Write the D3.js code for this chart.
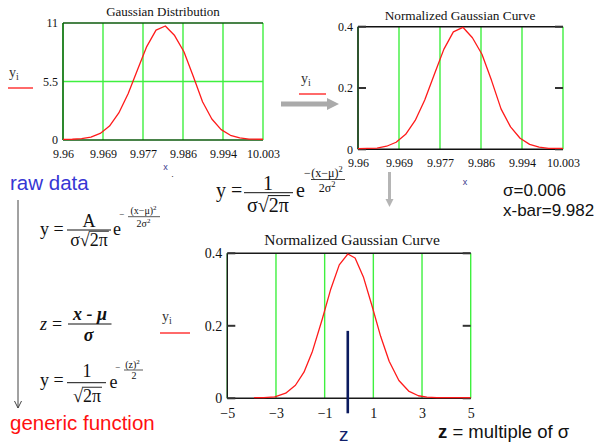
<!DOCTYPE html>
<html>
<head>
<meta charset="utf-8">
<script src="https://cdn.jsdelivr.net/npm/d3@7"></script>
<style>
  body { margin: 0; background: #fff; }
  svg { display: block; }
</style>
</head>
<body>
<svg id="chart" width="599" height="444"></svg>
<script>
// raw measured curve (x in mm, y counts)
const rawX = [9.960, 9.962, 9.964, 9.966, 9.968, 9.970, 9.972, 9.974, 9.976, 9.978, 9.980, 9.982,
  9.984, 9.986, 9.988, 9.990, 9.992, 9.994, 9.996, 9.998, 10.000, 10.002, 10.003]
const rawY = [0.06, 0.07, 0.12, 0.27, 0.62, 1.31, 2.54, 4.35, 6.58, 8.78, 10.33, 10.72,
  9.82, 8.3, 6.0, 3.6, 1.97, 0.98, 0.44, 0.19, 0.09, 0.07, 0.07]
// same curve after normalising
const normY = [0.002, 0.003, 0.004, 0.010, 0.023, 0.049, 0.094, 0.161, 0.244, 0.326, 0.383, 0.398,
  0.364, 0.31, 0.225, 0.132, 0.073, 0.036, 0.016, 0.007, 0.003, 0.003, 0.003]
// generic curve in multiples of sigma
const zVals = [-3.9, -3.5, -3.05, -2.6, -2.2, -1.85, -1.5, -1.1, -0.75, -0.4, -0.05, 0.25, 0.6,
  0.95, 1.3, 1.65, 2.05, 2.45, 2.85, 3.2, 3.6, 4.0, 4.5, 5.0]
const zY = [0.002, 0.002, 0.004, 0.014, 0.036, 0.072, 0.13, 0.218, 0.301, 0.368, 0.398, 0.387, 0.333,
  0.254, 0.171, 0.102, 0.049, 0.02, 0.007, 0.003, 0.002, 0.002, 0.002, 0.002]

const rawTicks = [9.96, 9.9686, 9.9772, 9.9858, 9.9944, 10.003]
const rawTickLabels = ['9.96', '9.969', '9.977', '9.986', '9.994', '10.003']
const rawYTicks = [0, 5.5, 11]
const rawYLabels = ['0', '5.5', '11']
const normYTicks = [0, 0.2, 0.4]
const normYLabels = ['0', '0.2', '0.4']
const zTicks = [-5, -3, -1, 1, 3, 5]
const zTickLabels = ['\u22125', '\u22123', '\u22121', '1', '3', '5']
const sigmaText = 'σ=0.006'
const xbarText = 'x-bar=9.982'
const zMarker = -0.05

const serif = '"Liberation Serif","Times New Roman",serif'
const sans = '"Liberation Sans",Arial,sans-serif'
const green = '#3ff03f'
const red = '#ff1a1a'

const svg = d3.select('#chart')

function text(g, x, y, s, size, o = {}) {
  return g.append('text')
    .attr('x', x).attr('y', y)
    .attr('font-family', o.family || serif)
    .attr('font-size', size)
    .attr('text-anchor', o.anchor || 'start')
    .attr('font-style', o.style || null)
    .attr('font-weight', o.weight || null)
    .attr('fill', o.fill || '#111')
    .text(s)
}

function hline(g, x1, x2, y, w = 1, c = '#111') {
  g.append('line').attr('x1', x1).attr('x2', x2).attr('y1', y).attr('y2', y)
    .attr('stroke', c).attr('stroke-width', w)
}

// text with a small superscript 2
function sq(g, x, y, s, size, o = {}) {
  const t = text(g, x, y, s, size, o)
  t.append('tspan').attr('font-size', size * 0.7).attr('dy', -size * 0.4).text('2')
  return t
}

// pre + square root over inner, centred at cx
function rootText(g, cx, y, pre, inner, size) {
  const grp = g.append('g')
  const a = text(grp, 0, y, pre + '√', size)
  const w1 = a.node().getComputedTextLength()
  const b = text(grp, w1, y, inner, size)
  const w2 = b.node().getComputedTextLength()
  hline(grp, w1 - 1, w1 + w2 + 1, y - size * 0.82, size / 20)
  grp.attr('transform', `translate(${cx - (w1 + w2) / 2},0)`)
}

function legend(x, y, lx1, lx2, ly) {
  const t = text(svg, x, y, 'y', 14, { fill: '#333' })
  t.append('tspan').attr('font-size', 10).attr('dy', 3).text('i')
  hline(svg, lx1, lx2, ly, 1.3, red)
}

function panel({ x, y, xTicks, xLabels, yTicks, yLabels, size, pad, hGrid, frameColor, data, title, titleX, titleY, titleSize, ticks }) {
  const g = svg.append('g')
  const [x0, x1] = x.range()
  const [y0, y1] = y.range()

  g.selectAll('.vgrid').data(xTicks).join('line')
    .attr('x1', d => x(d)).attr('x2', d => x(d))
    .attr('y1', y1).attr('y2', y0)
    .attr('stroke', green).attr('stroke-width', 1.4)
  if (hGrid) {
    g.selectAll('.hgrid').data(hGrid).join('line')
      .attr('x1', x0).attr('x2', x1)
      .attr('y1', d => y(d)).attr('y2', d => y(d))
      .attr('stroke', green).attr('stroke-width', 1.4)
  }

  // frame: top, bottom, left (right edge is the last grid line)
  hline(g, x0, x1, y1, 1.6, frameColor)
  hline(g, x0, x1, y0, 1.6, frameColor)
  g.append('line').attr('x1', x0).attr('x2', x0).attr('y1', y1).attr('y2', y0)
    .attr('stroke', frameColor).attr('stroke-width', 1.4)

  if (ticks) {
    g.selectAll('.tl').data(yTicks).join('line')
      .attr('x1', x0).attr('x2', x0 + 8)
      .attr('y1', d => y(d)).attr('y2', d => y(d))
      .attr('stroke', '#333').attr('stroke-width', 2)
    g.selectAll('.tr').data(yTicks).join('line')
      .attr('x1', x1 - 8).attr('x2', x1)
      .attr('y1', d => y(d)).attr('y2', d => y(d))
      .attr('stroke', '#333').attr('stroke-width', 2)
  }

  const line = d3.line().x(d => x(d[0])).y(d => y(d[1]))
  g.append('path')
    .attr('d', line(data))
    .attr('fill', 'none')
    .attr('stroke', red)
    .attr('stroke-width', 1.3)
    .attr('stroke-linejoin', 'round')

  const xAxis = d3.axisBottom(x).tickValues(xTicks)
    .tickFormat((d, i) => xLabels[i]).tickSize(0).tickPadding(pad)
  const yAxis = d3.axisLeft(y).tickValues(yTicks)
    .tickFormat((d, i) => yLabels[i]).tickSize(0).tickPadding(5)

  g.append('g').attr('transform', `translate(0,${y0})`).call(xAxis)
    .call(a => a.select('.domain').remove())
    .call(a => a.selectAll('text').attr('font-family', serif).attr('font-size', size).attr('fill', '#111'))
  g.append('g').attr('transform', `translate(${x0},0)`).call(yAxis)
    .call(a => a.select('.domain').remove())
    .call(a => a.selectAll('text').attr('font-family', serif).attr('font-size', size).attr('fill', '#111'))

  text(g, titleX, titleY, title, titleSize, { anchor: 'middle' })
  return g
}

// ---- chart 1: raw data
const x1s = d3.scaleLinear([9.96, 10.003], [63, 263])
const y1s = d3.scaleLinear([0, 11], [140, 23])
panel({
  x: x1s, y: y1s, xTicks: rawTicks, xLabels: rawTickLabels, yTicks: rawYTicks, yLabels: rawYLabels,
  size: 12, pad: 9.5, hGrid: [5.5], frameColor: '#0d5a0d', data: d3.zip(rawX, rawY),
  title: 'Gaussian Distribution', titleX: 163, titleY: 16, titleSize: 13, ticks: false
})
legend(9, 77, 8, 33, 88)
text(svg, 165.5, 170, 'x', 9, { family: sans, fill: '#3a3a8c', anchor: 'middle' })
text(svg, 172.5, 177, '.', 9, { family: sans, fill: '#333', anchor: 'middle' })

// ---- chart 2: normalised
const x2s = d3.scaleLinear([9.96, 10.003], [358, 563])
const y2s = d3.scaleLinear([0, 0.4], [149.3, 26.7])
panel({
  x: x2s, y: y2s, xTicks: rawTicks, xLabels: rawTickLabels, yTicks: normYTicks, yLabels: normYLabels,
  size: 12, pad: 9, frameColor: '#111', data: d3.zip(rawX, normY),
  title: 'Normalized Gaussian Curve', titleX: 460, titleY: 20, titleSize: 13.3, ticks: true
})
legend(301, 83, 299, 326, 94)
text(svg, 465, 185, 'x', 9, { family: sans, fill: '#3a3a8c', anchor: 'middle' })

// ---- chart 3: generic
const x3s = d3.scaleLinear([-5, 5], [227.3, 470.7])
const y3s = d3.scaleLinear([0, 0.4], [398.3, 253.3])
panel({
  x: x3s, y: y3s, xTicks: zTicks, xLabels: zTickLabels, yTicks: normYTicks, yLabels: normYLabels,
  size: 14, pad: 10, frameColor: '#1a1a1a', data: d3.zip(zVals, zY),
  title: 'Normalized Gaussian Curve', titleX: 352, titleY: 245, titleSize: 15.5, ticks: true
})
legend(162, 321, 160, 190, 333)
svg.append('line')
  .attr('x1', x3s(zMarker)).attr('x2', x3s(zMarker))
  .attr('y1', y3s(0.186)).attr('y2', y3s(0) + 15)
  .attr('stroke', '#0b1a5e').attr('stroke-width', 2.6)
text(svg, x3s(zMarker) - 4, 441, 'z', 19, { family: sans, fill: '#10206a', anchor: 'middle' })

// ---- arrows
const arrows = svg.append('g')
hline(arrows, 281, 329, 104, 5, '#aaaaaa')
arrows.append('path').attr('d', 'M327,98 L339,104 L327,110 Z').attr('fill', '#aaaaaa')
arrows.append('line').attr('x1', 389.5).attr('x2', 389.5).attr('y1', 172).attr('y2', 200)
  .attr('stroke', '#b5b5b5').attr('stroke-width', 3)
arrows.append('path').attr('d', 'M385.5,199 L393.5,199 L389.5,207 Z').attr('fill', '#b5b5b5')
arrows.append('line').attr('x1', 18).attr('x2', 18).attr('y1', 200).attr('y2', 408)
  .attr('stroke', '#444').attr('stroke-width', 1)
arrows.append('path').attr('d', 'M14.5,401 L18,408 L21.5,401').attr('fill', 'none')
  .attr('stroke', '#444').attr('stroke-width', 1)

// ---- formulas
const f = svg.append('g')
// middle: y = 1/(σ√2π) e^-(x-μ)²/2σ²
text(f, 216, 197, 'y =', 20)
hline(f, 244, 293, 192.7, 1)
text(f, 268, 189.5, '1', 20, { anchor: 'middle' })
rootText(f, 268, 212, 'σ', '2π', 20)
text(f, 296, 197, 'e', 20)
text(f, 304, 177, '−', 12)
sq(f, 327, 176.5, '(x−μ)', 12, { anchor: 'middle' })
hline(f, 311, 345, 179.5, 0.8)
sq(f, 327, 192, '2σ', 12, { anchor: 'middle' })

// left 1: y = A/(σ√2π) e^...
text(f, 40, 235, 'y =', 18)
hline(f, 67, 111, 230, 1)
text(f, 89, 226.5, 'A', 18, { anchor: 'middle' })
rootText(f, 89, 246, 'σ', '2π', 18)
text(f, 113, 234.5, 'e', 18)
text(f, 119, 216.5, '−', 9)
sq(f, 143.5, 214, '(x−μ)', 10, { anchor: 'middle' })
hline(f, 128, 160, 216.7, 0.7)
sq(f, 143.5, 226.5, '2σ', 10, { anchor: 'middle' })

// left 2: z = (x - μ)/σ
text(f, 40, 330, 'z', 18, { style: 'italic' })
text(f, 52, 330, '=', 18)
hline(f, 68, 111.5, 324, 1)
text(f, 90, 320, 'x - μ', 18, { anchor: 'middle', style: 'italic', weight: 'bold' })
text(f, 88.5, 341, 'σ', 18, { anchor: 'middle', style: 'italic', weight: 'bold' })

// left 3: y = 1/√2π e^-(z)²/2
text(f, 40, 386, 'y =', 18)
hline(f, 67, 106, 382.7, 1)
text(f, 87, 376.5, '1', 18, { anchor: 'middle' })
rootText(f, 87, 402, '', '2π', 18)
text(f, 109.5, 388, 'e', 18)
text(f, 115, 370, '−', 9)
sq(f, 132.5, 367.5, '(z)', 10, { anchor: 'middle' })
hline(f, 124, 143, 370, 0.7)
text(f, 134, 378.5, '2', 10, { anchor: 'middle' })

// ---- notes
text(svg, 10, 190, 'raw data', 20.5, { family: sans, fill: '#3636d4' })
text(svg, 10, 430, 'generic function', 20.5, { family: sans, fill: '#ff1010' })
text(svg, 503, 196, sigmaText, 17, { family: sans })
text(svg, 503, 216, xbarText, 17, { family: sans })
const note = text(svg, 438, 438, '', 18.5, { family: sans })
note.append('tspan').attr('font-weight', 'bold').text('z')
note.append('tspan').text(' = multiple of σ')
</script>
</body>
</html>
